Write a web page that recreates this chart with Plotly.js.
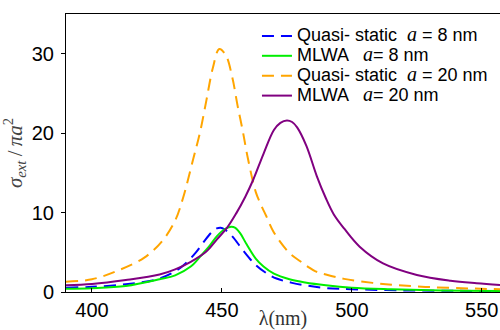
<!DOCTYPE html>
<html>
<head>
<meta charset="utf-8">
<script src="https://cdn.plot.ly/plotly-3.0.1.min.js"></script>
<style>html,body{margin:0;padding:0;background:#fff;}#chart{width:500px;height:330px;}</style>
</head>
<body>
<div id="chart"></div>
<script>
// Quasi-static a = 8 nm (blue dashed)
const qs8_x = [390,400,413,425,432,436,440,443,446,448,449.5,451,454,458,463,467,471,477,483,490,500,520,540,557];
const qs8_y = [0.55,0.65,0.97,1.6,2.6,3.6,5.0,6.3,7.5,8.0,8.1,7.9,7.0,5.3,3.4,2.4,1.7,1.15,0.8,0.5,0.35,0.2,0.15,0.12];
// MLWA a = 8 nm (green solid)
const ml8_x = [390,400,413,426,432,438,442,445,448,451,453.5,455,457,459.5,463,466,470,476,482,490,500,515,530,557];
const ml8_y = [0.42,0.48,0.75,1.6,2.1,3.2,4.6,5.7,7.0,7.9,8.2,8.1,7.4,6.0,4.2,3.2,2.3,1.6,1.2,0.85,0.55,0.35,0.22,0.14];
// Quasi-static a = 20 nm (orange dashed)
const qs20_x = [390,400,410,420,427,432,435,439,441.5,444,446.5,449,451.5,454,456,458,460,463,465,467,470,476,480,483,486,490,497,508,518,531,545,557];
const qs20_y = [1.3,1.6,2.7,4.3,6.4,9.0,11.8,16.8,20,24.1,28.2,30.6,29.8,27,23.5,20.3,16.8,12.6,11.0,9.6,7.5,4.9,3.9,3.2,2.6,2.2,1.65,1.15,0.85,0.6,0.45,0.35];
// MLWA a = 20 nm (purple solid)
const ml20_x = [390,400,413,426,432,438,444,448,452,455.5,459,462,466,470,472.5,475,477,479,482.5,486.5,490,493,497,503,512,525,538,548,557];
const ml20_y = [0.85,1.0,1.5,2.2,2.85,3.8,5.1,6.6,8.1,9.9,12.0,14.1,17.4,20.4,21.3,21.6,21.4,20.7,18.4,14.6,11.8,9.8,8.0,5.7,3.6,2.15,1.42,1.1,0.88];

const xTicks = [400,450,500,550];
const yTicks = [0,10,20,30];

const A = '<span style="font-family:\'Liberation Serif\';font-style:italic;font-size:20px">a</span>';
function big(s) { return '<span style="font-size:18px">' + s + '</span>'; }
const names = [
  big('Quasi- static  ') + A + big(' = 8 nm'),
  big('MLWA   ') + A + big('= 8 nm'),
  big('Quasi- static  ') + A + big(' = 20 nm'),
  big('MLWA   ') + A + big('= 20 nm')
];

const traces = [
  {x: qs8_x, y: qs8_y, name: names[0], mode: 'lines', line: {color: '#0000ff', width: 2, dash: '12px,7px', shape: 'spline'}},
  {x: ml8_x, y: ml8_y, name: names[1], mode: 'lines', line: {color: '#00ee00', width: 2, shape: 'spline'}},
  {x: qs20_x, y: qs20_y, name: names[2], mode: 'lines', line: {color: '#ffa500', width: 2, dash: '12px,7px', shape: 'spline'}},
  {x: ml20_x, y: ml20_y, name: names[3], mode: 'lines', line: {color: '#800080', width: 2, shape: 'spline'}}
];

const layout = {
  width: 500, height: 330,
  margin: {l: 66, r: 0, t: 14, b: 38},
  paper_bgcolor: '#fff', plot_bgcolor: '#fff',
  font: {family: 'Liberation Sans, Arial, sans-serif', size: 20, color: '#000'},
  showlegend: true,
  legend: {x: 0.44, y: 0.975, xanchor: 'left', yanchor: 'top', bgcolor: 'rgba(0,0,0,0)',
           font: {family: 'Liberation Sans, Arial, sans-serif', size: 13, color: '#000'},
           tracegroupgap: 0, itemwidth: 30},
  xaxis: {
    range: [390, 557], tickvals: xTicks, ticktext: xTicks.map(String),
    ticks: 'inside', ticklen: 4, tickcolor: '#000', showgrid: false, zeroline: false,
    showline: true, linecolor: '#000', linewidth: 1, mirror: true,
    tickfont: {size: 20}, ticklabelstandoff: 0,
    title: {text: 'λ(nm)', font: {family: 'Liberation Serif, serif', size: 20, color: '#333'}, standoff: 0}
  },
  yaxis: {
    range: [0, 35], tickvals: yTicks, ticktext: yTicks.map(String),
    ticks: 'outside', ticklen: 4, tickcolor: '#000', showgrid: false, zeroline: false,
    showline: true, linecolor: '#000', linewidth: 1, mirror: false,
    tickfont: {size: 20}, ticklabelstandoff: 3,
    title: {text: '<i>σ</i><sub><i>ext</i></sub>&#8201;/&#8201;<i>πa</i><sup>2</sup>', font: {family: 'Liberation Serif, serif', size: 21, color: '#444'}, standoff: 8}
  }
};

Plotly.newPlot('chart', traces, layout, {staticPlot: true, displayModeBar: false});
</script>
</body>
</html>
